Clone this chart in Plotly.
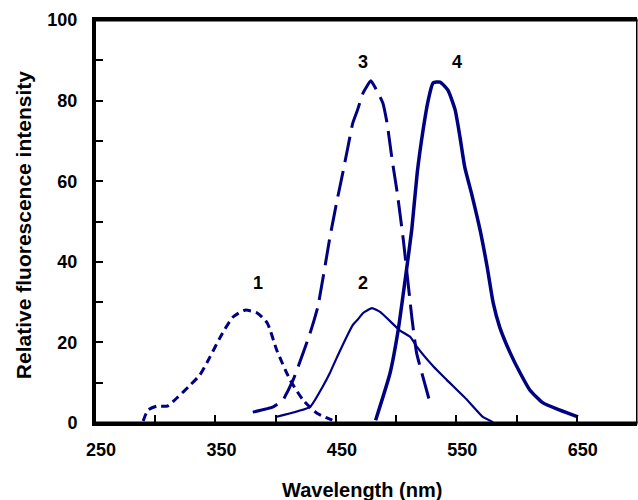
import plotly.graph_objects as go

# Curve 1 (short dash)
c1_x = [290, 294, 301.5, 310, 318, 329, 337, 345.5, 354, 364.6, 374.6, 384.6, 393, 401, 412, 422.8, 434, 447]
c1_y = [0.5, 3.2, 4.2, 4.2, 6.2, 9.4, 11.9, 16.4, 21.3, 26.3, 28.0, 27.3, 24.8, 18.0, 10.7, 5.7, 2.5, 0.7]

# Curve 2 (thin solid)
c2_x = [400, 428.6, 439, 445, 451, 464, 468, 472.6, 480, 487, 503, 512, 517, 531, 542, 559, 572, 580.5]
c2_y = [1.5, 4.0, 9.0, 12.4, 16.4, 24.3, 25.6, 27.3, 28.5, 27.5, 23.0, 21.3, 19.0, 14.0, 10.7, 5.7, 1.5, 0.2]

# Curve 3 (long dash)
c3_x = [381, 398, 406, 414.5, 418.6, 428.6, 435, 445, 451, 455, 460, 464, 468, 472.6, 479, 485, 489, 492.5, 496.7, 501, 506, 513.3, 517, 528]
c3_y = [2.7, 4.0, 5.7, 10.7, 13.9, 22.3, 28.8, 46.0, 55.3, 61.0, 68.5, 74.4, 77.7, 81.9, 84.9, 81.9, 79.4, 74.4, 65.3, 57.0, 45.4, 25.6, 17.4, 5.2]

# Curve 4 (thick solid)
c4_x = [483, 495, 501.7, 507.5, 513, 517.5, 522.4, 526.6, 530.7, 536.5, 543, 549, 553, 557, 563, 570, 575.6, 580.6, 586, 594.7, 603, 611, 622, 636, 651]
c4_y = [0.7, 12.4, 23.0, 35.5, 48.0, 62.0, 72.7, 80.0, 84.4, 84.6, 82.6, 77.7, 71.0, 63.5, 56.5, 47.5, 38.7, 29.8, 23.8, 17.4, 12.4, 8.2, 5.0, 3.2, 1.5]

label_text = ["1", "2", "3", "4"]
label_x = [385.5, 472.6, 472.6, 550.7]
label_y = [34.7, 34.7, 89.6, 89.6]

x_title = "Wavelength (nm)"
y_title = "Relative fluorescence intensity"

navy = "#000080"
font = "Liberation Sans, Arial"

fig = go.Figure()
fig.add_trace(go.Scatter(x=c1_x, y=c1_y, mode="lines", line=dict(color=navy, width=3, dash="8px,5px", shape="spline", smoothing=0.6)))
fig.add_trace(go.Scatter(x=c2_x, y=c2_y, mode="lines", line=dict(color=navy, width=2.2, shape="spline", smoothing=0.4)))
fig.add_trace(go.Scatter(x=c3_x, y=c3_y, mode="lines", line=dict(color=navy, width=3, dash="26px,9px", shape="spline", smoothing=0.4)))
fig.add_trace(go.Scatter(x=c4_x, y=c4_y, mode="lines", line=dict(color=navy, width=3.5, shape="spline", smoothing=0.5)))

for t, x, y in zip(label_text, label_x, label_y):
    fig.add_annotation(x=x, y=y, text="<b>%s</b>" % t, showarrow=False,
                       xanchor="center", yanchor="middle",
                       font=dict(family=font, size=18, color="black"))

fig.add_annotation(xref="paper", yref="paper", x=0.4926, y=-0.166, text="<b>%s</b>" % x_title,
                   xanchor="center", yanchor="middle",
                   showarrow=False, font=dict(family=font, size=20, color="black"))
fig.add_annotation(xref="paper", yref="paper", x=-0.1328, y=0.491, text="<b>%s</b>" % y_title,
                   xanchor="center", yanchor="middle",
                   textangle=-90, showarrow=False, font=dict(family=font, size=21, color="black"))

fig.update_layout(
    width=638, height=500,
    margin=dict(l=95, r=1, t=20, b=77),
    paper_bgcolor="white", plot_bgcolor="white",
    showlegend=False,
    xaxis=dict(range=[250, 700], tick0=250, dtick=100, ticks="inside", ticklen=8, tickwidth=2,
               tickcolor="black", showline=True, linewidth=3, linecolor="black", mirror=True,
               showgrid=False, zeroline=False,
               minor=dict(dtick=50, tick0=250, ticks="inside", ticklen=8, tickwidth=2, tickcolor="black"),
               tickfont=dict(family=font, size=18, color="black"),
               tickprefix="<b>", ticksuffix="</b>",
               ticklabelstandoff=8, ticklabelshift=6),
    yaxis=dict(range=[0, 100], tick0=0, dtick=20, ticks="inside", ticklen=8, tickwidth=2,
               tickcolor="black", showline=True, linewidth=3, linecolor="black",
               showgrid=False, zeroline=False,
               minor=dict(dtick=10, ticks="inside", ticklen=8, tickwidth=2, tickcolor="black"),
               tickfont=dict(family=font, size=18, color="black"),
               tickprefix="<b>", ticksuffix="</b>",
               ticklabelstandoff=11),
)
# frame as thin filled bars (paper coordinates; plot area is 542 x 403 px)
pw, ph = 542.0, 403.0
bars = [(-2.5 / pw, 1.0 / pw, -1.5 / ph, 1 + 1.5 / ph),   # left
        (-2.5 / pw, 1 + 0.5 / pw, -1.5 / ph, 1.5 / ph),    # bottom
        (-2.5 / pw, 1 + 0.5 / pw, 1 - 1.5 / ph, 1 + 1.5 / ph),  # top
        (1 - 1.0 / pw, 1 + 0.5 / pw, 0, 1)]                # right
for x0, x1, y0, y1 in bars:
    fig.add_shape(type="rect", xref="paper", yref="paper", x0=x0, x1=x1, y0=y0, y1=y1,
                  fillcolor="black", line=dict(width=0), layer="above")
fig.write_html("out.html")
